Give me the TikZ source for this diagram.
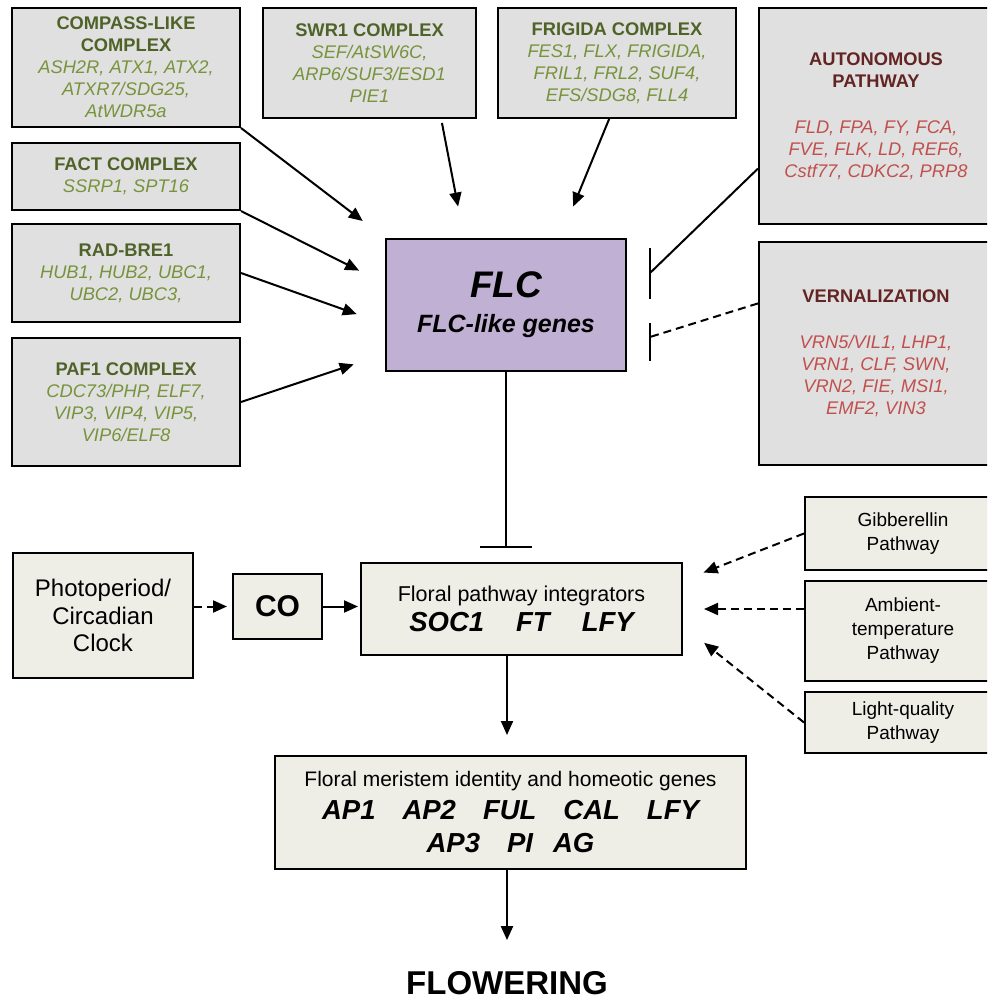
\documentclass[tikz,border=0pt]{standalone}
\usepackage{fontspec}
\setmainfont{Liberation Sans}
\usetikzlibrary{arrows.meta,calc}
\definecolor{boxgray}{HTML}{E0E0E0}
\definecolor{boxcream}{HTML}{EEEEE6}
\definecolor{flcpurple}{HTML}{C0B0D3}
\definecolor{titlegreen}{HTML}{4F6228}
\definecolor{genegreen}{HTML}{77933C}
\definecolor{titlered}{HTML}{632523}
\definecolor{genered}{HTML}{C0504D}
\tikzset{>={Triangle[length=14pt,width=12pt]}}
\newcommand{\grtitle}[1]{\textcolor{titlegreen}{\upshape\bfseries #1}}
\newcommand{\rdtitle}[1]{\textcolor{titlered}{\upshape\bfseries #1}}

\begin{document}
\begin{tikzpicture}[x=1pt,y=-1pt,
  gbox/.style={draw, line width=2pt, fill=boxgray, align=center, inner sep=0pt,
    text=genegreen, font=\fontsize{18.3}{22}\selectfont\itshape},
  rbox/.style={gbox, text=genered},
  cbox/.style={draw, line width=2pt, fill=boxcream, align=center, inner sep=0pt},
  act/.style={->, line width=2pt},
  inh/.style={line width=2pt},
  dsh/.style={dash pattern=on 8pt off 5pt}]
\path[use as bounding box, clip] (0,0) rectangle (987,1000);

% regulators of FLC
\node[gbox, minimum width=228pt, minimum height=119pt] (compass) at (126,67.5)
  {\grtitle{COMPASS-LIKE}\\\grtitle{COMPLEX}\\ASH2R, ATX1, ATX2,\\ATXR7/SDG25,\\AtWDR5a};
\node[gbox, minimum width=213pt, minimum height=110pt] (swr) at (369.5,63)
  {\grtitle{SWR1 COMPLEX}\\SEF/AtSW6C,\\ARP6/SUF3/ESD1\\PIE1};
\node[gbox, minimum width=238pt, minimum height=110pt] (frigida) at (617,63)
  {\grtitle{FRIGIDA COMPLEX}\\FES1, FLX, FRIGIDA,\\FRIL1, FRL2, SUF4,\\EFS/SDG8, FLL4};
\node[gbox, minimum width=228pt, minimum height=67pt] (fact) at (126,176.5)
  {\grtitle{FACT COMPLEX}\\SSRP1, SPT16};
\node[gbox, minimum width=228pt, minimum height=98pt] (radbre) at (126,273)
  {\grtitle{RAD-BRE1}\\HUB1, HUB2, UBC1,\\UBC2, UBC3,};
\node[gbox, minimum width=228pt, minimum height=128pt] (paf) at (126,402)
  {\grtitle{PAF1 COMPLEX}\\CDC73/PHP, ELF7,\\VIP3, VIP4, VIP5,\\VIP6/ELF8};
\node[rbox, minimum width=234pt, minimum height=216pt] (auton) at (876,116)
  {\rdtitle{AUTONOMOUS}\\\rdtitle{PATHWAY}\\[24pt]FLD, FPA, FY, FCA,\\FVE, FLK, LD, REF6,\\Cstf77, CDKC2, PRP8};
\node[rbox, minimum width=234pt, minimum height=223pt] (vern) at (876,353.5)
  {\rdtitle{VERNALIZATION}\\[24pt]VRN5/VIL1, LHP1,\\VRN1, CLF, SWN,\\VRN2, FIE, MSI1,\\EMF2, VIN3};

\node[draw, line width=2pt, fill=flcpurple, align=center, inner sep=0pt,
  minimum width=240pt, minimum height=132pt, font=\fontsize{25}{35}\selectfont\bfseries\itshape] (flc) at (506,305)
  {{\fontsize{37}{37}\selectfont FLC}\\FLC-like genes};
\coordinate (autbar) at ($(flc.east)+(23,-32)$);
\coordinate (vernbar) at ($(flc.east)+(23,32)$);

% integrators
\node[cbox, minimum width=180pt, minimum height=125pt, font=\fontsize{24}{27.5}\selectfont] (photo) at (103,615.5)
  {Photoperiod/\\Circadian\\Clock};
\node[cbox, minimum width=89pt, minimum height=65pt, font=\fontsize{30}{30}\selectfont\bfseries] (co) at (277.5,606.5) {CO};
\node[cbox, minimum width=321pt, minimum height=92pt, font=\fontsize{21.5}{30}\selectfont] (integ) at (521.5,609)
  {Floral pathway integrators\\{\fontsize{27.5}{30}\selectfont\bfseries\itshape SOC1\hspace{32pt}FT\hspace{32pt}LFY}};
\node[cbox, minimum width=196pt, minimum height=73pt, font=\fontsize{19}{24}\selectfont] (gibb) at (903,533.5)
  {Gibberellin\\Pathway};
\node[cbox, minimum width=196pt, minimum height=100pt, font=\fontsize{19}{24}\selectfont] (amb) at (903,631)
  {Ambient-\\temperature\\Pathway};
\node[cbox, minimum width=196pt, minimum height=61pt, font=\fontsize{19}{24}\selectfont] (light) at (903,722.5)
  {Light-quality\\Pathway};
\node[cbox, minimum width=471pt, minimum height=113pt, font=\fontsize{21}{33}\selectfont] (meristem) at (510.5,812.5)
  {Floral meristem identity and homeotic genes\\
   {\fontsize{27.5}{33}\selectfont\bfseries\itshape AP1\hspace{27pt}AP2\hspace{27pt}FUL\hspace{27pt}CAL\hspace{27pt}LFY}\\
   {\fontsize{27.5}{33}\selectfont\bfseries\itshape AP3\hspace{27pt}PI\hspace{20pt}AG}};
\node[inner sep=0pt, font=\fontsize{33}{33}\selectfont\bfseries] (flower) at (507,983) {FLOWERING};

% connectors
\draw[act, shorten >=28pt] (compass.south east) -- (flc.north west);
\draw[act, shorten >=29pt] (fact.south east) -- (flc.170.8);
\draw[act, shorten >=30pt] (radbre.east) -- (flc.189.5);
\draw[act, shorten >=33pt] (paf.east) -- (flc.202.6);
\draw[act, shorten <=4pt, shorten >=32pt] (swr.-38) -- (flc.122.2);
\draw[act, shorten >=34pt] (frigida.262.7) -- (flc.51.2);
\draw[inh] (auton.204) -- (autbar);
\draw[inh] ($(autbar)+(0,-25.5)$) -- ($(autbar)+(0,25.5)$);
\draw[inh, dsh] (vern.157.5) -- (vernbar);
\draw[inh] ($(vernbar)+(0,-14)$) -- ($(vernbar)+(0,24)$);
\draw[inh, -{Bar[width=52pt]}, shorten >=14pt] (flc.south) -- (flc.south |- integ.north);
\draw[act, dsh, shorten >=5pt] (photo.east |- co.west) -- (co.west);
\draw[act, shorten >=2pt] (co.east) -- (co.east -| integ.west);
\draw[act, dsh, shorten >=22pt] (gibb.west) -- (integ.10.2);
\draw[act, dsh, shorten >=21pt] (amb.west |- integ.east) -- (integ.east);
\draw[act, dsh, shorten >=27pt] (light.west) -- (integ.-6.75);
\draw[act, shorten >=20pt] (integ.south -| flower.north) -- (meristem.north -| flower.north);
\draw[act, shorten >=31pt] (meristem.south -| flower.north) -- (flower.north);
\end{tikzpicture}
\end{document}
